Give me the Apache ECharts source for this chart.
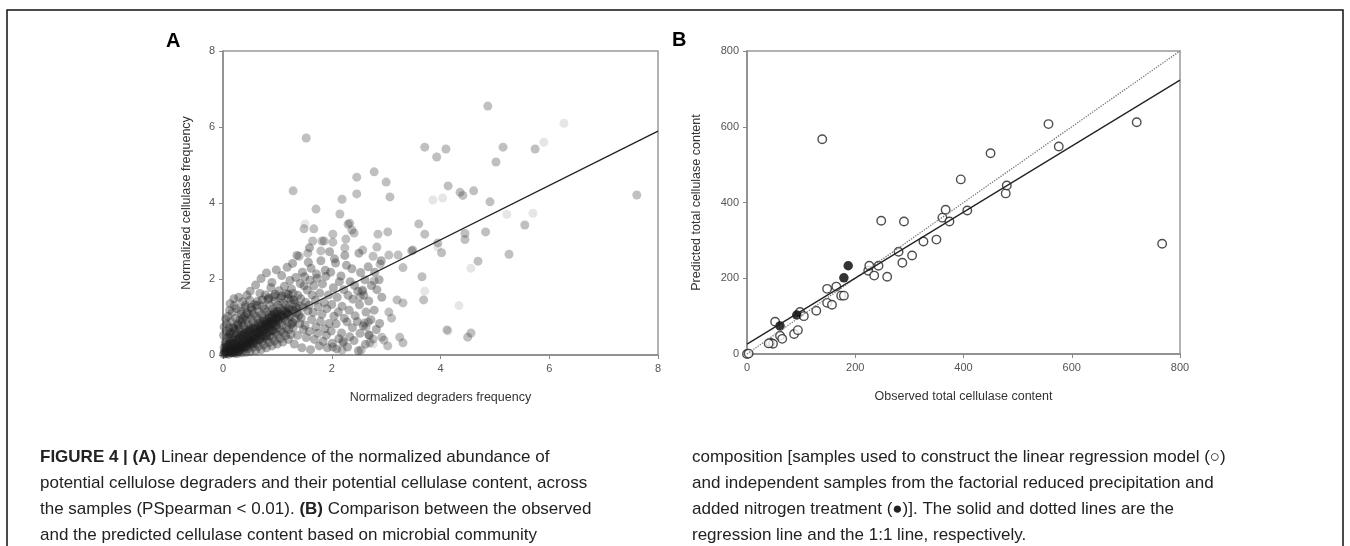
<!DOCTYPE html>
<html>
<head>
<meta charset="utf-8">
<script src="https://cdn.jsdelivr.net/npm/echarts@6/dist/echarts.min.js"></script>
<style>
  html, body { margin: 0; padding: 0; background: #fff; }
  #main { width: 1350px; height: 546px; }
</style>
</head>
<body>
<div id="main"></div>
<script>
// panel A: normalized degraders frequency (x) vs normalized cellulase frequency (y)
var clusterA = [
  [0.01,0.02],[0.03,0.11],[0.02,0.19],[0.04,0.33],[0.01,0.52],[0.03,0.07],[0.02,0.74],
  [0.06,0.04],[0.07,0.16],[0.05,0.27],[0.08,0.44],[0.06,0.63],[0.07,0.82],[0.05,0.95],
  [0.1,0.02],[0.11,0.13],[0.09,0.24],[0.12,0.36],[0.1,0.49],[0.11,0.71],[0.09,1.02],[0.12,1.18],
  [0.14,0.07],[0.15,0.2],[0.13,0.29],[0.16,0.47],[0.14,0.6],[0.15,0.88],[0.13,1.35],
  [0.18,0.05],[0.19,0.13],[0.17,0.27],[0.2,0.39],[0.18,0.57],[0.19,0.74],[0.17,1.12],[0.2,1.48],
  [0.22,0.09],[0.23,0.21],[0.21,0.31],[0.24,0.5],[0.22,0.65],[0.23,0.97],[0.21,1.3],
  [0.26,0.04],[0.27,0.17],[0.25,0.26],[0.28,0.43],[0.26,0.56],[0.27,0.82],[0.25,1.22],[0.29,1.52],
  [0.3,0.11],[0.31,0.25],[0.29,0.36],[0.32,0.53],[0.3,0.69],[0.31,0.92],[0.33,1.08],
  [0.34,0.06],[0.35,0.19],[0.33,0.31],[0.36,0.48],[0.34,0.61],[0.35,0.86],[0.33,1.16],[0.36,1.4],
  [0.38,0.14],[0.39,0.29],[0.37,0.41],[0.4,0.58],[0.38,0.76],[0.39,1.01],[0.41,1.25],
  [0.42,0.07],[0.43,0.23],[0.41,0.35],[0.44,0.51],[0.42,0.67],[0.43,0.91],[0.41,1.31],[0.44,1.57],
  [0.46,0.17],[0.47,0.33],[0.45,0.45],[0.48,0.63],[0.46,0.79],[0.47,1.06],[0.49,1.44],
  [0.5,0.09],[0.51,0.27],[0.49,0.39],[0.52,0.56],[0.5,0.71],[0.51,0.96],[0.53,1.19],[0.5,1.68],
  [0.55,0.21],[0.56,0.34],[0.54,0.51],[0.57,0.65],[0.55,0.86],[0.56,1.09],[0.58,1.33],
  [0.6,0.11],[0.61,0.31],[0.59,0.44],[0.62,0.61],[0.6,0.77],[0.61,1.01],[0.63,1.41],[0.6,1.84],
  [0.65,0.23],[0.66,0.39],[0.64,0.57],[0.67,0.71],[0.65,0.93],[0.66,1.14],[0.68,1.62],
  [0.7,0.14],[0.71,0.36],[0.69,0.49],[0.72,0.69],[0.7,0.84],[0.71,1.06],[0.73,1.29],[0.7,2.01],
  [0.75,0.27],[0.76,0.46],[0.74,0.61],[0.77,0.81],[0.75,0.97],[0.76,1.21],[0.78,1.58],
  [0.8,0.19],[0.81,0.41],[0.79,0.57],[0.82,0.76],[0.8,0.91],[0.81,1.13],[0.83,1.46],[0.8,2.16],
  [0.85,0.33],[0.86,0.51],[0.84,0.71],[0.87,0.87],[0.85,1.06],[0.86,1.31],[0.88,1.77],
  [0.9,0.24],[0.91,0.46],[0.89,0.64],[0.92,0.83],[0.9,0.99],[0.91,1.21],[0.93,1.54],[0.9,1.91],
  [0.95,0.37],[0.96,0.59],[0.94,0.77],[0.97,0.96],[0.95,1.14],[0.96,1.41],[0.98,2.24],
  [1.0,0.29],[1.01,0.53],[0.99,0.71],[1.02,0.91],[1.0,1.07],[1.01,1.31],[1.03,1.69],
  [1.05,0.43],[1.06,0.64],[1.04,0.86],[1.07,1.01],[1.05,1.23],[1.06,1.49],[1.08,2.09],
  [1.1,0.34],[1.11,0.59],[1.09,0.79],[1.12,0.99],[1.1,1.16],[1.11,1.37],[1.13,1.81],
  [1.15,0.51],[1.16,0.71],[1.14,0.93],[1.17,1.09],[1.15,1.31],[1.16,1.61],[1.18,2.31],
  [1.2,0.41],[1.21,0.66],[1.19,0.87],[1.22,1.06],[1.2,1.24],[1.21,1.49],[1.23,1.96],
  [1.25,0.54],[1.26,0.81],[1.24,1.01],[1.27,1.19],[1.25,1.43],[1.26,1.74],[1.28,2.41],
  [1.31,0.29],[1.29,0.72],[1.33,0.94],[1.3,1.16],[1.32,1.36],[1.29,1.62],[1.34,2.04],
  [1.37,0.52],[1.41,0.83],[1.36,1.11],[1.4,1.29],[1.38,1.57],[1.42,1.88],[1.36,2.62],
  [1.45,0.19],[1.48,0.67],[1.44,0.98],[1.47,1.26],[1.43,1.48],[1.49,1.82],[1.46,2.18],
  [1.53,0.46],[1.51,0.78],[1.56,1.16],[1.52,1.39],[1.55,1.71],[1.5,2.06],[1.57,2.44],
  [1.61,0.14],[1.59,0.62],[1.63,0.93],[1.58,1.31],[1.64,1.58],[1.6,1.97],[1.62,2.28],[1.59,2.82],
  [1.68,0.41],[1.71,0.74],[1.66,1.12],[1.7,1.44],[1.67,1.82],[1.72,2.13],
  [1.77,0.24],[1.74,0.57],[1.79,0.88],[1.75,1.27],[1.78,1.63],[1.73,2.02],[1.8,2.48],
  [1.84,0.36],[1.87,0.69],[1.82,1.07],[1.86,1.38],[1.83,1.87],[1.88,2.23],
  [1.92,0.19],[1.9,0.52],[1.95,0.83],[1.91,1.22],[1.94,1.58],[1.89,2.07],[1.96,2.72],
  [2.01,0.31],[1.99,0.63],[2.04,1.02],[2.0,1.33],[2.03,1.77],[1.98,2.18],[2.05,2.53],
  [2.09,0.16],[2.13,0.43],[2.08,0.82],[2.12,1.13],[2.1,1.52],[2.14,1.93],[2.07,2.42],
  [2.21,0.36],[2.18,0.58],[2.23,0.97],[2.19,1.28],[2.22,1.72],[2.17,2.08],[2.24,2.62],
  [2.29,0.21],[2.33,0.48],[2.28,0.87],[2.32,1.18],[2.3,1.57],[2.34,1.93],[2.27,2.36],
  [2.41,0.38],[2.38,0.72],[2.43,1.03],[2.39,1.47],[2.42,1.83],[2.37,2.27],
  [2.49,0.11],[2.52,0.57],[2.47,0.88],[2.51,1.32],[2.48,1.68],[2.53,2.17],[2.5,2.68],
  [2.62,0.28],[2.58,0.77],[2.63,1.13],[2.59,1.57],[2.61,1.98],
  [2.69,0.52],[2.72,0.93],[2.68,1.42],[2.73,1.83],[2.67,2.32],
  [2.82,0.67],[2.78,1.18],[2.83,1.72],[2.79,2.18],
  [2.88,0.83],[2.92,1.52],[2.87,1.98],[2.91,2.48]
];
// densest band near the origin, along the regression line
var coreA = [
  [0.03,0.04],[0.06,0.09],[0.09,0.06],[0.12,0.1],[0.15,0.14],[0.18,0.1],[0.21,0.18],[0.24,0.14],
  [0.27,0.24],[0.3,0.19],[0.33,0.28],[0.36,0.24],[0.39,0.35],[0.42,0.3],[0.45,0.4],[0.48,0.36],
  [0.51,0.46],[0.54,0.42],[0.57,0.53],[0.6,0.48],[0.63,0.6],[0.66,0.55],[0.69,0.66],[0.72,0.62],
  [0.75,0.72],[0.78,0.68],[0.81,0.8],[0.84,0.75],[0.87,0.86],[0.9,0.82],[0.93,0.94],[0.96,0.88],
  [0.99,1.0],[1.02,0.96],[1.06,1.08],[1.1,1.04],[1.14,1.15],[1.18,1.1],[1.22,1.2],
  [0.05,0.2],[0.1,0.28],[0.15,0.32],[0.2,0.3],[0.25,0.4],[0.3,0.45],[0.35,0.52],[0.4,0.55],
  [0.45,0.6],[0.5,0.66],[0.55,0.72],[0.6,0.7],[0.65,0.82],[0.7,0.78],[0.75,0.9],[0.8,0.86],
  [0.85,0.98],[0.9,1.05],[0.95,1.1],[1.0,1.15],[0.08,0.14],[0.16,0.06],[0.22,0.05],[0.28,0.09],
  [0.32,0.14],[0.38,0.2],[0.44,0.22],[0.5,0.3],[0.56,0.3],[0.62,0.4],[0.68,0.42],[0.74,0.5],
  [0.8,0.5],[0.86,0.62],[0.92,0.65],[0.98,0.78],
  [0.12,0.55],[0.2,0.7],[0.28,0.78],[0.36,0.95],[0.44,1.1],[0.52,1.25],[0.62,1.3],[0.72,1.45],
  [0.84,1.5],[0.96,1.6],[1.08,1.55],[1.2,1.6],[1.3,1.45],[1.35,1.25],[1.4,1.05],[1.28,0.85]
];
var outliersA = [
  [4.87,6.55],[1.53,5.71],[3.71,5.47],[4.1,5.42],[3.93,5.21],[5.15,5.47],[5.02,5.08],[5.74,5.42],
  [7.61,4.21],[2.78,4.82],[3.0,4.55],[2.46,4.68],[2.46,4.24],[3.07,4.16],[2.19,4.1],[1.29,4.32],
  [1.71,3.84],[2.15,3.71],[4.14,4.45],[4.36,4.28],[4.41,4.2],[4.61,4.32],[4.91,4.03],[3.6,3.45],
  [3.71,3.18],[4.45,3.2],[4.45,3.04],[4.83,3.24],[5.55,3.42],[5.26,2.65],[4.69,2.47],[4.02,2.69],
  [3.66,2.06],[3.49,2.76],[3.22,2.63],[3.31,2.3],[3.03,3.24],[2.85,3.18],[2.83,2.84],[3.05,2.63],
  [2.89,2.39],[2.78,1.95],[1.49,3.32],[1.67,3.32],[1.65,3.0],[1.82,3.0],[2.02,3.18],[2.02,2.97],
  [2.26,3.05],[2.3,3.44],[2.37,3.29],[1.8,2.74],[3.69,1.45],[3.2,1.45],[3.31,1.37],[3.05,1.13],
  [3.1,0.97],[2.96,0.39],[3.03,0.24],[3.25,0.47],[3.31,0.32],[4.56,0.58],[4.5,0.47],[3.95,2.95],
  [3.47,2.74],[2.57,2.76],[2.76,2.6],[2.67,0.87],[2.63,0.74],[2.92,0.47],[2.76,0.42],[2.7,0.32],
  [2.54,0.13],[2.19,0.13],[2.02,0.21],[2.21,0.32],[4.12,0.66],[2.6,0.84],[2.68,0.53],[2.57,1.71],
  [2.52,1.53],[2.56,1.68],[1.4,2.6],[1.56,2.68],[2.41,3.21],[2.33,3.47],[2.24,2.82],[1.86,3.0]
];
var faintA = [
  [6.27,6.1],[5.9,5.6],[3.86,4.08],[4.04,4.13],[5.22,3.7],[5.7,3.73],[4.56,2.28],[3.95,2.84],
  [3.71,1.68],[4.34,1.3],[4.14,0.63],[2.76,0.29],[1.51,3.45]
];
var regressionA = [[0, 0.17], [8, 5.89]];

// panel B: observed (x) vs predicted (y) total cellulase content
var modelSamples = [
  [0,0],[3,1],[52,85],[61,48],[65,40],[43,30],[48,27],[40,28],[87,53],[94,63],[98,111],[105,100],
  [128,114],[148,172],[165,178],[148,135],[157,130],[174,154],[179,154],[224,220],[226,233],[235,207],
  [243,233],[259,204],[248,352],[290,350],[280,270],[287,241],[305,260],[326,297],[350,302],[361,360],
  [367,381],[374,350],[407,379],[395,461],[450,530],[478,424],[480,445],[139,567],[557,607],[576,548],
  [720,612],[767,291]
];
var independentSamples = [[61,74],[92,103],[179,201],[187,233]];
var regressionB = [[0, 26], [800, 723]];
var oneToOne = [[0, 0], [800, 800]];

var font = 'Liberation Sans, Arial, sans-serif';

function valueAxis(gridIndex, max, interval, name, nameGap) {
  return {
    type: 'value', gridIndex: gridIndex, min: 0, max: max, interval: interval,
    name: name, nameLocation: 'middle', nameGap: nameGap,
    nameTextStyle: { color: '#333', fontSize: 12.5, fontFamily: font },
    axisLine: { show: true, lineStyle: { color: '#888', width: 1.5 } },
    axisTick: { show: true, length: 4, lineStyle: { color: '#888' } },
    axisLabel: { color: '#555', fontSize: 11, fontFamily: font, margin: 8 },
    splitLine: { show: false }
  };
}

var chart = echarts.init(document.getElementById('main'));
var option = {
  animation: false,
  backgroundColor: '#fff',
  grid: [
    { left: 223, top: 51, width: 435, height: 304, show: true, borderColor: '#999', borderWidth: 1.5 },
    { left: 747, top: 51, width: 433, height: 303, show: true, borderColor: '#999', borderWidth: 1.5 }
  ],
  xAxis: [
    valueAxis(0, 8, 2, 'Normalized degraders frequency', 36),
    valueAxis(1, 800, 200, 'Observed total cellulase content', 36)
  ],
  yAxis: [
    valueAxis(0, 8, 2, 'Normalized cellulase frequency', 30),
    valueAxis(1, 800, 200, 'Predicted total cellulase content', 44)
  ],
  series: [
    {
      type: 'scatter', xAxisIndex: 0, yAxisIndex: 0, data: clusterA, symbolSize: 9,
      itemStyle: { color: 'rgba(45,45,45,0.47)' }
    },
    {
      type: 'scatter', xAxisIndex: 0, yAxisIndex: 0, data: coreA, symbolSize: 9,
      itemStyle: { color: 'rgba(25,25,25,0.5)' }
    },
    {
      type: 'scatter', xAxisIndex: 0, yAxisIndex: 0, data: outliersA, symbolSize: 9,
      itemStyle: { color: 'rgba(60,60,60,0.4)' }
    },
    {
      type: 'scatter', xAxisIndex: 0, yAxisIndex: 0, data: faintA, symbolSize: 9,
      itemStyle: { color: 'rgba(60,60,60,0.16)' }
    },
    {
      type: 'line', xAxisIndex: 0, yAxisIndex: 0, data: regressionA, symbol: 'none',
      lineStyle: { color: '#222', width: 1.3 }
    },
    {
      type: 'line', xAxisIndex: 1, yAxisIndex: 1, data: oneToOne, symbol: 'none',
      lineStyle: { color: '#777', width: 1.3, type: 'dotted' }
    },
    {
      type: 'line', xAxisIndex: 1, yAxisIndex: 1, data: regressionB, symbol: 'none',
      lineStyle: { color: '#222', width: 1.3 }
    },
    {
      type: 'scatter', xAxisIndex: 1, yAxisIndex: 1, data: modelSamples, symbolSize: 8.5,
      itemStyle: { color: '#fff', borderColor: '#222', borderWidth: 1.4 }
    },
    {
      type: 'scatter', xAxisIndex: 1, yAxisIndex: 1, data: independentSamples, symbolSize: 9.5,
      itemStyle: { color: '#000' }
    }
  ],
  graphic: [
    // frame around the figure
    { type: 'rect', shape: { x: 7, y: 10, width: 1336, height: 560 }, style: { fill: 'none', stroke: '#111', lineWidth: 1.5 } },
    { type: 'text', x: 166, y: 31, style: { text: 'A', font: 'bold 20px ' + font, fill: '#000' } },
    { type: 'text', x: 672, y: 30, style: { text: 'B', font: 'bold 20px ' + font, fill: '#000' } },
    {
      type: 'text', x: 40, y: 444,
      style: {
        text: '{b|FIGURE 4 | (A)} Linear dependence of the normalized abundance of\n' +
              'potential cellulose degraders and their potential cellulase content, across\n' +
              'the samples (PSpearman < 0.01). {b|(B)} Comparison between the observed\n' +
              'and the predicted cellulase content based on microbial community',
        font: '17px ' + font, fill: '#222', lineHeight: 26,
        rich: { b: { font: 'bold 17px ' + font, fill: '#222', lineHeight: 26 } }
      }
    },
    {
      type: 'text', x: 692, y: 444,
      style: {
        text: 'composition [samples used to construct the linear regression model (\u25CB)\n' +
              'and independent samples from the factorial reduced precipitation and\n' +
              'added nitrogen treatment (\u25CF)]. The solid and dotted lines are the\n' +
              'regression line and the 1:1 line, respectively.',
        font: '17px ' + font, fill: '#222', lineHeight: 26
      }
    }
  ]
};
chart.setOption(option);
</script>
</body>
</html>
